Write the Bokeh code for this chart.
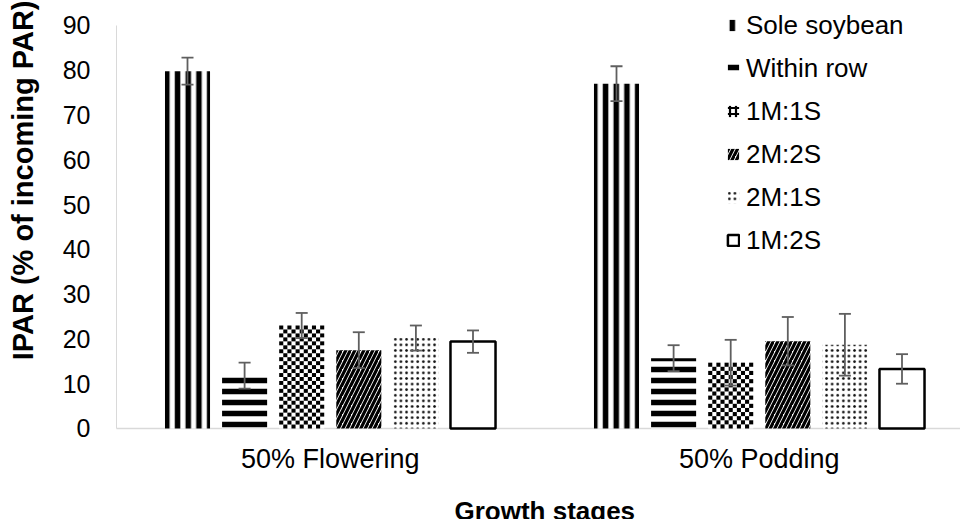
import math

from bokeh.plotting import figure
from bokeh.models import (ColumnDataSource, Whisker, TeeHead, FixedTicker, Range1d,
                          Legend, LegendItem, Label)
from bokeh.embed import file_html
from bokeh.resources import INLINE

# Growth stages (x categories) and intercropping treatments
stages = ["50% Flowering", "50% Podding"]
treatments = ["Sole soybean", "Within row", "1M:1S", "2M:2S", "2M:1S", "1M:2S"]

# IPAR (% of incoming PAR) per treatment: [flowering, podding]
sole_soybean = [79.8, 77.0]
within_row = [11.8, 15.7]
m1_s1 = [23.0, 14.7]
m2_s2 = [17.5, 19.5]
m2_s1 = [20.2, 18.7]
m1_s2 = [19.4, 13.3]

# Error bar half-widths: [flowering, podding]
sole_soybean_err = [3.0, 3.9]
within_row_err = [2.9, 2.9]
m1_s1_err = [2.8, 5.1]
m2_s2_err = [4.0, 5.4]
m2_s1_err = [2.8, 6.9]
m1_s2_err = [2.5, 3.3]

y_ticks = list(range(0, 91, 10))

values = [sole_soybean, within_row, m1_s1, m2_s2, m2_s1, m1_s2]
errors = [sole_soybean_err, within_row_err, m1_s1_err, m2_s2_err, m2_s1_err, m1_s2_err]

FONT = "Liberation Sans"
ERR_COLOR = "#5f5f5f"
AXIS_COLOR = "#d9d9d9"

W, H = 960, 519
X_START, X_END = 0.23135, 2.46911
Y_START, Y_END = -20.322, 95.578
Y_AXIS_AT = 0.50175         # x position of the value axis
PX_X = W / (X_END - X_START)
PX_Y = H / (Y_END - Y_START)

group_pos = [1, 2]          # numeric positions of the two stages
bar_step = 0.1331           # distance between neighbouring bars in a group
bar_width = 0.105

# The frame covers the whole canvas; the value axis sits at a fixed x and the
# space under zero holds the stage names and the x title.
p = figure(width=W, height=H,
           x_range=Range1d(X_START, X_END), y_range=Range1d(Y_START, Y_END),
           output_backend="svg", toolbar_location=None,
           min_border_left=0, min_border_right=0,
           min_border_top=0, min_border_bottom=0)
p.outline_line_color = None
p.xgrid.grid_line_color = None
p.ygrid.grid_line_color = None
p.background_fill_color = "white"
p.border_fill_color = "white"
p.xaxis.visible = False

styles = [
    dict(fill_color="white", line_color=None, hatch_pattern="vertical_line",
         hatch_scale=10.7, hatch_weight=5.5, hatch_color="black"),
    dict(fill_color="white", line_color=None, hatch_pattern="horizontal_line",
         hatch_scale=11, hatch_weight=5.5, hatch_color="black"),
    dict(fill_color="white", line_color=None),
    dict(fill_color="white", line_color=None, hatch_pattern="right_diagonal_line",
         hatch_scale=9, hatch_weight=3.2, hatch_color="black"),
    dict(fill_color="white", line_color=None, hatch_pattern="dot",
         hatch_scale=5.6, hatch_weight=3.3, hatch_color="#111111"),
    dict(fill_color="white", line_color="black", line_width=2.5),
]


def checker_cells(xs, tops, cell_px=4):
    """Black squares of a checkerboard filling each bar."""
    cx, cy, cw, ch = [], [], [], []
    for xc, top in zip(xs, tops):
        n_cols = max(1, round(bar_width * PX_X / cell_px))
        n_rows = max(1, round(top * PX_Y / cell_px))
        w, h = bar_width / n_cols, top / n_rows
        left = xc - bar_width / 2
        for r in range(n_rows):
            for c in range(n_cols):
                if (r + c) % 2 == 1:
                    cx.append(left + (c + 0.5) * w)
                    cy.append((r + 0.5) * h)
                    cw.append(w)
                    ch.append(h)
    return dict(x=cx, y=cy, w=cw, h=ch)


# category baseline, from the value axis to the right edge
p.segment(x0=[Y_AXIS_AT], y0=[0], x1=[X_END], y1=[0], line_color=AXIS_COLOR, line_width=1.5)

legend_items = []
for i, (name, vals, errs) in enumerate(zip(treatments, values, errors)):
    xs = [g + (i - 2.5) * bar_step for g in group_pos]
    src = ColumnDataSource(dict(
        x=xs, top=vals,
        upper=[v + e for v, e in zip(vals, errs)],
        lower=[v - e for v, e in zip(vals, errs)],
    ))
    r = p.vbar(x="x", top="top", bottom=0, width=bar_width, source=src, **styles[i])
    if name == "1M:1S":
        p.rect(x="x", y="y", width="w", height="h",
               source=ColumnDataSource(checker_cells(xs, vals)),
               fill_color="black", line_color=None)
        # legend swatch for the checkerboard fill (a zero-height bar)
        r = p.vbar(x=[group_pos[0]], top=[0], bottom=0, width=bar_width,
                   fill_color="white", line_color=None,
                   hatch_pattern="cross", hatch_scale=6, hatch_weight=2.2, hatch_color="black")
    legend_items.append(LegendItem(label=name, renderers=[r]))
    whisker = Whisker(source=src, base="x", upper="upper", lower="lower",
                      line_color=ERR_COLOR, line_width=1.8, level="overlay",
                      upper_head=TeeHead(size=12, line_color=ERR_COLOR, line_width=1.8),
                      lower_head=TeeHead(size=12, line_color=ERR_COLOR, line_width=1.8))
    p.add_layout(whisker)

# stage names under each group
for g, s in zip(group_pos, stages):
    p.add_layout(Label(x=g, y=-6.9, text=s, text_align="center",
                       text_baseline="alphabetic", text_font=FONT,
                       text_font_size="27px", text_color="black"))

# axis titles
p.add_layout(Label(x=(group_pos[0] + group_pos[1]) / 2, y=-18.45,
                   text="Growth stages", text_align="center", text_baseline="alphabetic",
                   text_font=FONT, text_font_style="bold", text_font_size="26px",
                   text_color="black"))
p.add_layout(Label(x=0.2827, y=56.3, angle=math.pi / 2,
                   text="IPAR (% of  incoming PAR)", text_align="center",
                   text_baseline="middle", text_font=FONT, text_font_style="bold",
                   text_font_size="29px", text_color="black"))

# value axis, its line running from 0 to 90 only
p.yaxis.fixed_location = Y_AXIS_AT
p.yaxis.ticker = FixedTicker(ticks=y_ticks)
p.yaxis.bounds = (0, 90)
p.yaxis.major_tick_out = 0
p.yaxis.major_tick_in = 0
p.yaxis.minor_tick_out = 0
p.yaxis.minor_tick_in = 0
p.yaxis.axis_line_color = AXIS_COLOR
p.yaxis.major_label_text_font = FONT
p.yaxis.major_label_text_font_size = "25px"
p.yaxis.major_label_text_color = "black"
p.yaxis.major_label_standoff = 26

legend = Legend(items=legend_items, location=(726, 263.5), orientation="vertical",
                glyph_width=14, glyph_height=14, label_standoff=6, spacing=12,
                padding=0, margin=0, label_height=30,
                label_text_font=FONT, label_text_font_size="26px",
                label_text_color="black",
                border_line_alpha=0, background_fill_alpha=0)
p.add_layout(legend)

open("out.html", "w").write(file_html(p, INLINE))
